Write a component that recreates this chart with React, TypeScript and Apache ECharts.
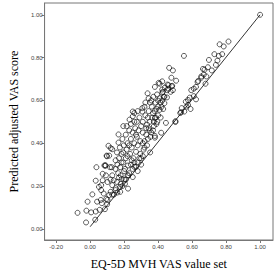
import React, { useEffect, useRef } from "react";
import * as echarts from "echarts";

const xTicks = [-0.2, 0.0, 0.2, 0.4, 0.6, 0.8, 1.0];
const yTicks = [0.0, 0.2, 0.4, 0.6, 0.8, 1.0];

const lowerLeft = [
  [-0.074, 0.075], [-0.024, 0.03], [-0.022, 0.085], [-0.015, 0.127], [0.006, 0.077], [0.013, 0.161],
  [0.03, 0.043], [0.033, 0.081], [0.041, 0.127], [0.037, 0.288], [0.033, 0.225], [0.056, 0.089],
  [0.063, 0.135], [0.069, 0.12], [0.052, 0.196], [0.065, 0.181], [0.065, 0.204], [0.074, 0.227],
  [0.074, 0.257], [0.087, 0.092], [0.08, 0.165], [0.089, 0.296], [0.093, 0.25], [0.084, 0.296],
  [0.091, 0.296], [0.099, 0.339], [0.097, 0.342], [0.095, 0.14], [0.1, 0.115],
];

const band1 = [
  [0.102, 0.219], [0.102, 0.135], [0.108, 0.388], [0.112, 0.158], [0.112, 0.342], [0.117, 0.288],
  [0.121, 0.377], [0.121, 0.173], [0.127, 0.288], [0.13, 0.204], [0.13, 0.372], [0.139, 0.227],
  [0.149, 0.181], [0.149, 0.28], [0.15, 0.32], [0.158, 0.219], [0.158, 0.357], [0.16, 0.3],
  [0.165, 0.26], [0.167, 0.403], [0.167, 0.441], [0.17, 0.33], [0.175, 0.38], [0.177, 0.196],
  [0.177, 0.288], [0.177, 0.173], [0.18, 0.25], [0.185, 0.35], [0.186, 0.234], [0.19, 0.42],
  [0.195, 0.357], [0.195, 0.48], [0.195, 0.31], [0.2, 0.27], [0.198, 0.39], [0.16, 0.17],
  [0.14, 0.16], [0.13, 0.25], [0.12, 0.23], [0.185, 0.31], [0.19, 0.2], [0.17, 0.24],
];

const band2 = [
  [0.205, 0.211], [0.205, 0.28], [0.21, 0.33], [0.21, 0.44], [0.215, 0.37], [0.22, 0.4],
  [0.223, 0.296], [0.223, 0.188], [0.225, 0.25], [0.23, 0.46], [0.232, 0.51], [0.235, 0.35],
  [0.24, 0.42], [0.24, 0.3], [0.245, 0.38], [0.25, 0.45], [0.251, 0.242], [0.251, 0.526],
  [0.251, 0.548], [0.255, 0.33], [0.26, 0.541], [0.26, 0.4], [0.265, 0.47], [0.27, 0.36],
  [0.27, 0.29], [0.275, 0.5], [0.275, 0.43], [0.28, 0.39], [0.28, 0.27], [0.285, 0.46],
  [0.29, 0.52], [0.29, 0.33], [0.295, 0.41], [0.3, 0.48], [0.3, 0.3], [0.21, 0.23],
  [0.23, 0.26], [0.25, 0.28], [0.26, 0.31], [0.22, 0.34], [0.24, 0.49], [0.27, 0.44],
  [0.28, 0.55], [0.26, 0.5], [0.23, 0.39], [0.295, 0.35], [0.215, 0.48], [0.245, 0.32],
];

const band3 = [
  [0.307, 0.564], [0.307, 0.548], [0.31, 0.45], [0.31, 0.5], [0.315, 0.37], [0.32, 0.41],
  [0.325, 0.59], [0.325, 0.53], [0.33, 0.47], [0.335, 0.487], [0.335, 0.39], [0.338, 0.633],
  [0.34, 0.42], [0.344, 0.61], [0.345, 0.55], [0.35, 0.5], [0.353, 0.59], [0.355, 0.43],
  [0.36, 0.45], [0.363, 0.571], [0.365, 0.52], [0.37, 0.46], [0.372, 0.617], [0.375, 0.48],
  [0.38, 0.55], [0.381, 0.518], [0.381, 0.434], [0.381, 0.663], [0.385, 0.59], [0.39, 0.49],
  [0.394, 0.628], [0.395, 0.5], [0.4, 0.571], [0.4, 0.599], [0.4, 0.53], [0.31, 0.4],
  [0.32, 0.57], [0.33, 0.44], [0.34, 0.52], [0.35, 0.46], [0.36, 0.6], [0.37, 0.54],
  [0.375, 0.5], [0.39, 0.56], [0.32, 0.38], [0.345, 0.47], [0.385, 0.52],
];

const band4 = [
  [0.403, 0.682], [0.409, 0.556], [0.409, 0.61], [0.409, 0.678], [0.415, 0.52], [0.418, 0.449],
  [0.424, 0.689], [0.424, 0.651], [0.424, 0.636], [0.424, 0.599], [0.428, 0.64],
  [0.433, 0.616], [0.437, 0.617], [0.437, 0.587], [0.446, 0.495], [0.452, 0.614], [0.455, 0.674],
  [0.455, 0.648], [0.459, 0.655], [0.461, 0.671], [0.465, 0.752], [0.474, 0.64], [0.478, 0.706],
  [0.48, 0.666], [0.483, 0.668], [0.487, 0.74], [0.487, 0.648], [0.42, 0.57], [0.43, 0.56],
  [0.415, 0.59], [0.44, 0.66],
];

const nearLine = [
  [0.3, 0.33], [0.353, 0.357], [0.381, 0.426], [0.28, 0.31], [0.26, 0.29], [0.22, 0.25],
  [0.2, 0.23], [0.18, 0.21], [0.15, 0.19], [0.13, 0.16], [0.31, 0.34],
];

const upperRight = [
  [0.502, 0.503], [0.502, 0.499], [0.506, 0.692], [0.53, 0.541], [0.535, 0.545], [0.539, 0.564],
  [0.552, 0.808], [0.554, 0.548], [0.563, 0.594], [0.567, 0.571], [0.576, 0.579], [0.576, 0.602],
  [0.586, 0.613], [0.591, 0.56], [0.595, 0.648], [0.61, 0.62], [0.61, 0.655], [0.623, 0.605],
  [0.623, 0.663], [0.632, 0.686], [0.636, 0.691], [0.654, 0.706], [0.654, 0.712], [0.664, 0.747],
  [0.669, 0.721], [0.673, 0.743], [0.679, 0.678], [0.684, 0.712], [0.693, 0.755], [0.699, 0.789],
  [0.716, 0.74], [0.731, 0.816], [0.74, 0.766], [0.749, 0.786], [0.757, 0.808], [0.762, 0.862],
  [0.777, 0.816], [0.786, 0.852], [0.814, 0.875], [1.0, 1.0],
];

const identityLine = [
  [0.0, 0.01],
  [1.0, 1.0],
];

const points = [
  ...lowerLeft, ...band1, ...band2, ...band3, ...band4, ...nearLine, ...upperRight,
];

const AXIS_COLOR = "#777";

export default function App() {
  const ref = useRef<HTMLDivElement>(null);
  useEffect(() => {
    if (!ref.current) return;
    const chart = echarts.init(ref.current, null, { renderer: "svg" });
    chart.setOption({
      animation: false,
      backgroundColor: "#fff",
      grid: {
        left: 32,
        top: 3,
        right: 2,
        bottom: 31,
        show: true,
        borderColor: AXIS_COLOR,
        borderWidth: 1,
      },
      xAxis: {
        type: "value",
        min: -0.268,
        max: 1.076,
        name: "EQ-5D MVH VAS value set",
        nameLocation: "middle",
        nameGap: 18,
        nameTextStyle: { fontFamily: "Liberation Serif", fontSize: 12, color: "#000" },
        axisLine: { show: true, onZero: false, lineStyle: { color: AXIS_COLOR } },
        axisTick: { show: true, length: 3, customValues: xTicks, lineStyle: { color: AXIS_COLOR } },
        axisLabel: {
          customValues: xTicks,
          formatter: (v: number) => v.toFixed(2),
          fontSize: 6,
          fontFamily: "Liberation Sans",
          color: "#444",
          margin: 4,
        },
        splitLine: { show: false },
      },
      yAxis: {
        type: "value",
        min: -0.052,
        max: 1.055,
        name: "Predicted adjusted VAS score",
        nameLocation: "middle",
        nameGap: 21,
        nameTextStyle: { fontFamily: "Liberation Serif", fontSize: 12, color: "#000" },
        axisLine: { show: true, onZero: false, lineStyle: { color: AXIS_COLOR } },
        axisTick: { show: true, length: 3, customValues: yTicks, lineStyle: { color: AXIS_COLOR } },
        axisLabel: {
          customValues: yTicks,
          formatter: (v: number) => v.toFixed(2),
          fontSize: 6,
          fontFamily: "Liberation Sans",
          color: "#444",
          margin: 2,
        },
        splitLine: { show: false },
      },
      series: [
        {
          type: "line",
          data: identityLine,
          showSymbol: false,
          symbol: "none",
          lineStyle: { color: "#000", width: 0.8 },
          silent: true,
        },
        {
          type: "scatter",
          data: points,
          symbol: "circle",
          symbolSize: 5,
          itemStyle: { color: "rgba(0,0,0,0)", borderColor: "#000", borderWidth: 0.8 },
        },
      ],
    });
    return () => chart.dispose();
  }, []);
  return (
    <div
      ref={ref}
      style={{ position: "fixed", left: 0, top: 0, width: 275, height: 275, background: "#fff" }}
    />
  );
}
